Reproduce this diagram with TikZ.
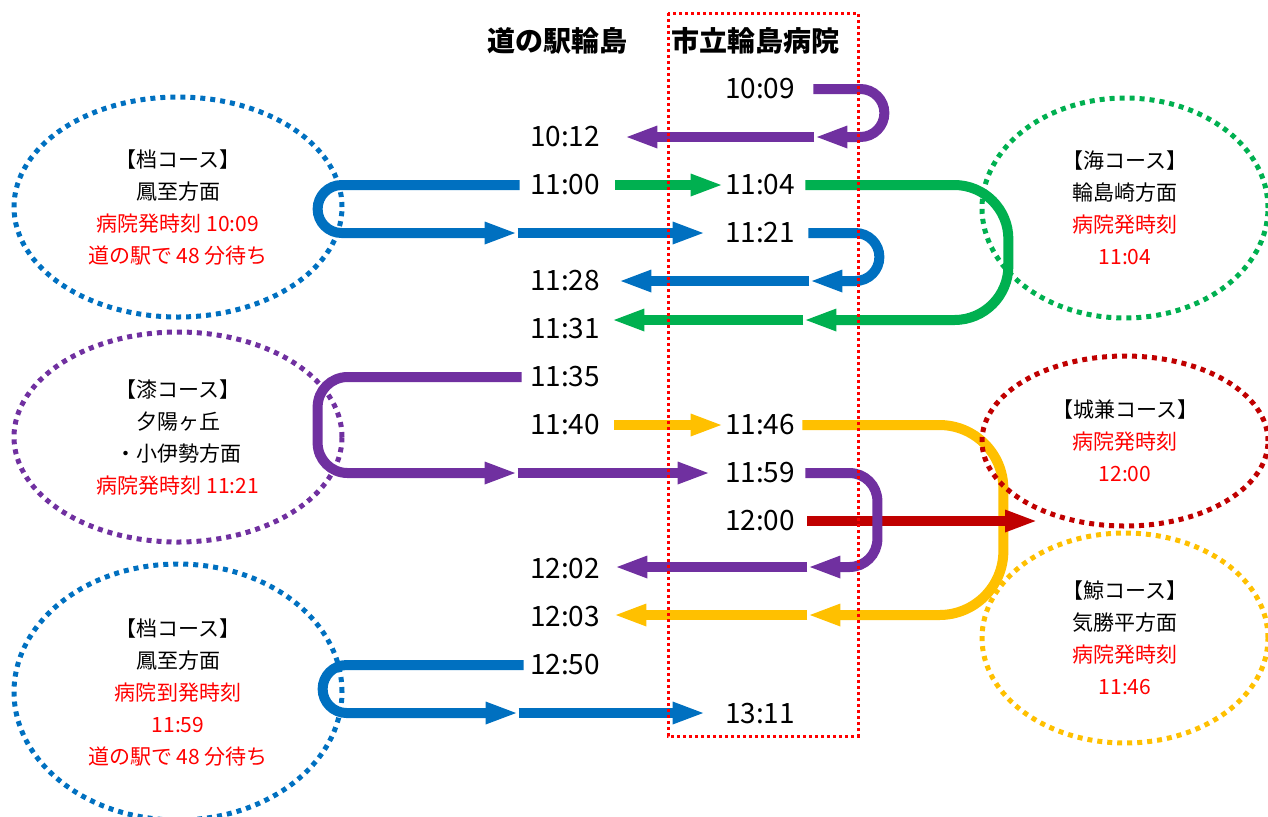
\documentclass[tikz,border=0pt]{standalone}
\usepackage{fontspec}
\setmainfont{Noto Sans CJK JP}
\usetikzlibrary{arrows.meta, shapes.geometric, positioning}
\definecolor{kblue}{HTML}{0070C0}
\definecolor{kgreen}{HTML}{00B050}
\definecolor{kpurple}{HTML}{7030A0}
\definecolor{kyellow}{HTML}{FFC000}
\definecolor{kdarkred}{HTML}{C00000}
\definecolor{kred}{HTML}{FF0000}
\begin{document}
\begin{tikzpicture}[x=0.5pt, y=-0.5pt,%
  runarrow/.style={line width=5pt, -{Triangle[length=16.5pt, width=10pt]}},%
  timelabel/.style={font=\fontsize{14}{16}\selectfont, inner sep=0pt},%
  station/.style={font=\bfseries\fontsize{14}{16}\selectfont, inner sep=0pt},%
  course/.style={ellipse, line width=2.5pt, dash pattern=on 2.5pt off 2.5pt, align=center, inner sep=0pt, font=\fontsize{10.5}{16}\selectfont},%
  hospbox/.style={draw=kred, line width=1.5pt, dash pattern=on 1.5pt off 1.5pt}%
]
  \useasboundingbox (0,0) rectangle (1268,816);
  \node[station] (eki) at (557,41) {道の駅輪島};
  \node[station] (byoin) at (755,41) {市立輪島病院};
  % 病院側の時刻
  \node[timelabel] (R1009) at (760,89) {10:09};
  \node[timelabel] (R1104) at (760,185) {11:04};
  \node[timelabel] (R1121) at (760,233) {11:21};
  \node[timelabel] (R1146) at (760,425) {11:46};
  \node[timelabel] (R1159) at (760,473) {11:59};
  \node[timelabel] (R1200) at (760,521) {12:00};
  \node[timelabel] (R1311) at (760,713) {13:11};
  % 道の駅側の時刻
  \node[timelabel] (L1012) at (565,137) {10:12};
  \node[timelabel] (L1100) at (565,185) {11:00};
  \node[timelabel] (L1128) at (565,281) {11:28};
  \node[timelabel] (L1131) at (565,329) {11:31};
  \node[timelabel] (L1135) at (565,377) {11:35};
  \node[timelabel] (L1140) at (565,425) {11:40};
  \node[timelabel] (L1202) at (565,569) {12:02};
  \node[timelabel] (L1203) at (565,617) {12:03};
  \node[timelabel] (L1250) at (565,665) {12:50};
  \coordinate (jokentip) at (1038,521);
  % 档コース 1便
  \draw[runarrow, kblue, rounded corners=12pt] ([xshift=-5pt]L1100.west) -- ++(-202,0) -- ++(0,48) -- ++(200,0) coordinate (kakeAturn);
  \draw[runarrow, kblue] (kakeAturn) -- ([xshift=-9.5pt]R1121.west);
  \draw[runarrow, kblue, rounded corners=12pt] ([xshift=6.5pt]R1121.east) -- ++(71,0) -- ++(0,48) -- ++(-70,0) coordinate (kakeAback);
  \draw[runarrow, kblue] (kakeAback) -- ([xshift=9pt]L1128.east);
  % 海コース
  \draw[runarrow, kgreen] ([xshift=7.5pt]L1100.east) -- ([xshift=-0.5pt]R1104.west);
  \draw[runarrow, kgreen, rounded corners=27pt] ([xshift=5pt]R1104.east) -- ++(203,0) -- ++(0,135) -- ++(-205,0) coordinate (umiturn);
  \draw[runarrow, kgreen] (umiturn) -- ([xshift=5.5pt]L1131.east |- umiturn);
  % 漆コース
  \draw[runarrow, kpurple, rounded corners=12pt] ([xshift=9pt]R1009.east) -- ++(71,0) -- ++(0,48) -- ++(-70,0) coordinate (urushiback);
  \draw[runarrow, kpurple] (urushiback) -- ([xshift=12pt]L1012.east);
  \draw[runarrow, kpurple, rounded corners=15pt] ([xshift=-4pt]L1135.west) -- ++(-204,0) -- ++(0,96) -- ++(200,0) coordinate (urushiturn);
  \draw[runarrow, kpurple] (urushiturn) -- ([xshift=-7pt]R1159.west);
  % 鯨コース
  \draw[runarrow, kyellow] ([xshift=7pt]L1140.east) -- ([xshift=-0.5pt]R1146.west);
  \draw[runarrow, kyellow, rounded corners=32pt] ([xshift=3.5pt]R1146.east) -- ++(201,0) -- ++(0,190) -- ++(-196,0) coordinate (kujiraturn);
  \draw[runarrow, kyellow] (kujiraturn) -- ([xshift=6.5pt]L1203.east |- kujiraturn);
  % 城兼コース
  \draw[runarrow, kdarkred] ([xshift=6pt]R1200.east) -- (jokentip);
  % 漆コース 11:59
  \draw[runarrow, kpurple, rounded corners=14pt] ([xshift=5pt]R1159.east) -- ++(72,0) -- ++(0,94) -- ++(-70,0) coordinate (urushiback2);
  \draw[runarrow, kpurple] (urushiback2) -- ([xshift=7pt]L1202.east |- urushiback2);
  % 档コース 2便
  \draw[runarrow, kblue, rounded corners=12pt] ([xshift=-3pt]L1250.west) -- ++(-201,0) -- ++(0,48) -- ++(196,0) coordinate (kakeBturn);
  \draw[runarrow, kblue] (kakeBturn) -- ([xshift=-9.5pt]R1311.west);
  % 病院の枠
  \draw[hospbox] (668,13) rectangle (858,736);
  % コースの説明
  \node[course, draw=kblue, minimum width=164pt, minimum height=110pt] (kakeA) at (178,207) {【档コース】\\鳳至方面\\\textcolor{kred}{病院発時刻 10:09}\\\textcolor{kred}{道の駅で 48 分待ち}};
  \node[course, draw=kpurple, minimum width=164pt, minimum height=105pt] (urushi) at (178,437) {【漆コース】\\夕陽ヶ丘\\・小伊勢方面\\\textcolor{kred}{病院発時刻 11:21}};
  \node[course, draw=kblue, minimum width=164pt, minimum height=128pt] (kakeB) at (178,692) {【档コース】\\鳳至方面\\\textcolor{kred}{病院到発時刻}\\\textcolor{kred}{11:59}\\\textcolor{kred}{道の駅で 48 分待ち}};
  \node[course, draw=kgreen, minimum width=143pt, minimum height=110pt] (umi) at (1125,208) {【海コース】\\輪島崎方面\\\textcolor{kred}{病院発時刻}\\\textcolor{kred}{11:04}};
  \node[course, draw=kdarkred, minimum width=143pt, minimum height=85pt] (joken) at (1125,441) {【城兼コース】\\\textcolor{kred}{病院発時刻}\\\textcolor{kred}{12:00}};
  \node[course, draw=kyellow, minimum width=143pt, minimum height=105pt] (kujira) at (1125,638) {【鯨コース】\\気勝平方面\\\textcolor{kred}{病院発時刻}\\\textcolor{kred}{11:46}};
\end{tikzpicture}
\end{document}
